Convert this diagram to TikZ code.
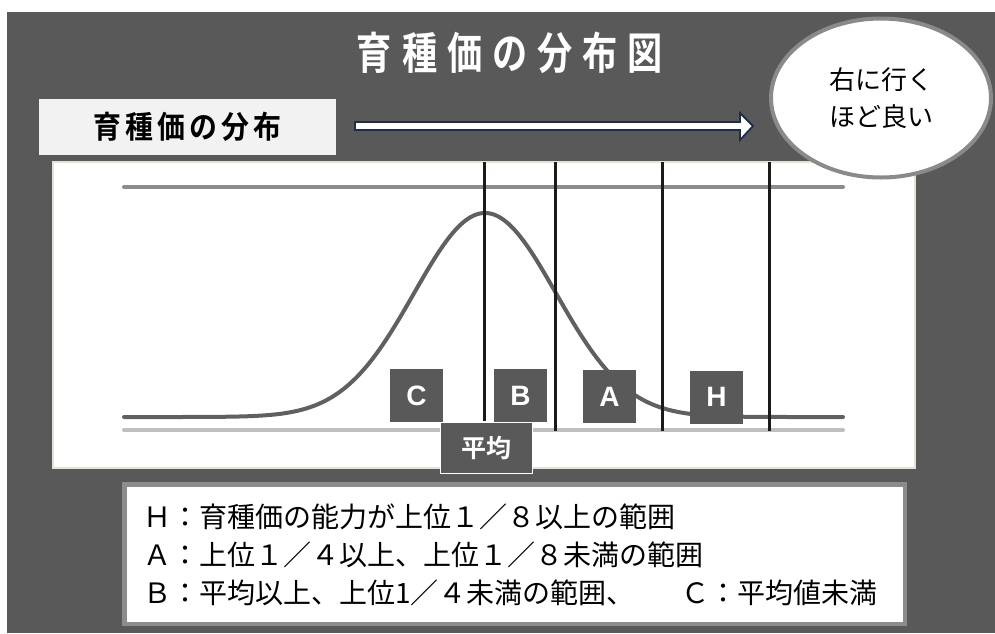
\documentclass[tikz,border=0pt]{standalone}
\usepackage{fontspec}
\setmainfont{Noto Sans CJK JP}[BoldFont={Noto Sans CJK JP Bold}]
\newfontfamily\latinfont{Liberation Sans}
\usetikzlibrary{shapes.geometric}
\definecolor{bgdark}{HTML}{595959}
\definecolor{boxgray}{HTML}{595959}
\definecolor{curvegray}{HTML}{606060}
\definecolor{topgray}{HTML}{8C8C8C}
\definecolor{botgray}{HTML}{BFBFBF}
\definecolor{vblack}{HTML}{1A1A1A}
\definecolor{labelfill}{HTML}{F2F2F2}
\definecolor{navy}{HTML}{1F2D4D}
\definecolor{ellgray}{HTML}{8A8A8A}
\definecolor{panelborder}{HTML}{E6E2D6}
\definecolor{legborder}{HTML}{8C8C8C}
\tikzset{
  letterbox/.style={fill=boxgray, minimum width=53pt, minimum height=53pt, inner sep=0pt, text=white,
    font=\latinfont\bfseries\fontsize{28}{28}\selectfont},
  vline/.style={draw=vblack, line width=3pt},
  guide/.style={line width=4pt, line cap=round},
  legtext/.style={anchor=west, inner sep=0pt, font=\fontsize{28}{28}\selectfont, text=black},
}
\begin{document}
\begin{tikzpicture}[x=1pt,y=-1pt]
\useasboundingbox (0,0) rectangle (995,633);
\fill[white] (0,0) rectangle (995,633);
\fill[bgdark] (7,12) rectangle (995,633);

% title
\node[inner sep=0pt, text=white] (title) at (510,53)
  {\scalebox{0.8}[1]{\fontsize{44}{44}\selectfont\bfseries 育\hspace{12.5pt}種\hspace{12.5pt}価\hspace{12.5pt}の\hspace{12.5pt}分\hspace{12.5pt}布\hspace{12.5pt}図}};

% label box
\node[fill=labelfill, minimum width=297pt, minimum height=56pt, inner sep=0pt] (lbl) at (187.5,127)
  {\scalebox{0.9}[1]{\fontsize{31}{31}\selectfont\bfseries 育\hspace{4.5pt}種\hspace{4.5pt}価\hspace{4.5pt}の\hspace{4.5pt}分\hspace{4.5pt}布}};

% block arrow
\draw[draw=navy, fill=white, line width=1.8pt, line join=miter]
  (355,122) -- (740,122) -- (740,113) -- (753,126) -- (740,140) -- (740,130) -- (355,130) -- cycle;

% panel
\draw[draw=panelborder, fill=white, line width=2pt] (53,162) rectangle (915,468);

% guide lines
\draw[guide, draw=topgray] (124,187) -- (843,187);
\draw[guide, draw=botgray] (124,430) -- (843,430);

% gaussian curve
\draw[guide, draw=curvegray, line join=round] plot[domain=124:843, samples=300] (\x, {417-204*exp(-0.5*((\x-485)/71)^2)});

% vertical lines
\draw[vline] (484,162) -- (484,421);
\draw[vline] (555,162) -- (555,431);
\draw[vline] (662,162) -- (662,431);
\draw[vline] (769,162) -- (769,431);

% letter boxes
\node[letterbox] (C) at (416.5,395.5) {C};
\node[letterbox] (B) at (520.5,395.5) {B};
\node[letterbox] (A) at (609.5,396.5) {A};
\node[letterbox] (H) at (716.5,397) {H};

% average box
\node[fill=boxgray, draw=white, line width=1pt, minimum width=92pt, minimum height=51pt, inner sep=0pt,
  text=white, font=\fontsize{25}{25}\selectfont\bfseries] (avg) at (486,447.5) {平均};

% ellipse
\node[ellipse, draw=ellgray, line width=4pt, fill=white, minimum width=220pt, minimum height=159pt,
  inner sep=0pt, align=center, font=\fontsize{26}{37}\selectfont] (good) at (881,98) {右に行く\\ほど良い};

% legend
\draw[draw=legborder, fill=white, line width=4.5pt] (124.25,484.25) rectangle (904.75,623.75);
\node[legtext] (l1) at (143,517) {Ｈ：育種価の能力が上位１／８以上の範囲};
\node[legtext] (l2) at (143,555) {Ａ：上位１／４以上、上位１／８未満の範囲};
\node[legtext] (l3) at (143,593) {Ｂ：平均以上、上位1／４未満の範囲、\hspace{47pt}Ｃ：平均値未満};
\end{tikzpicture}
\end{document}
